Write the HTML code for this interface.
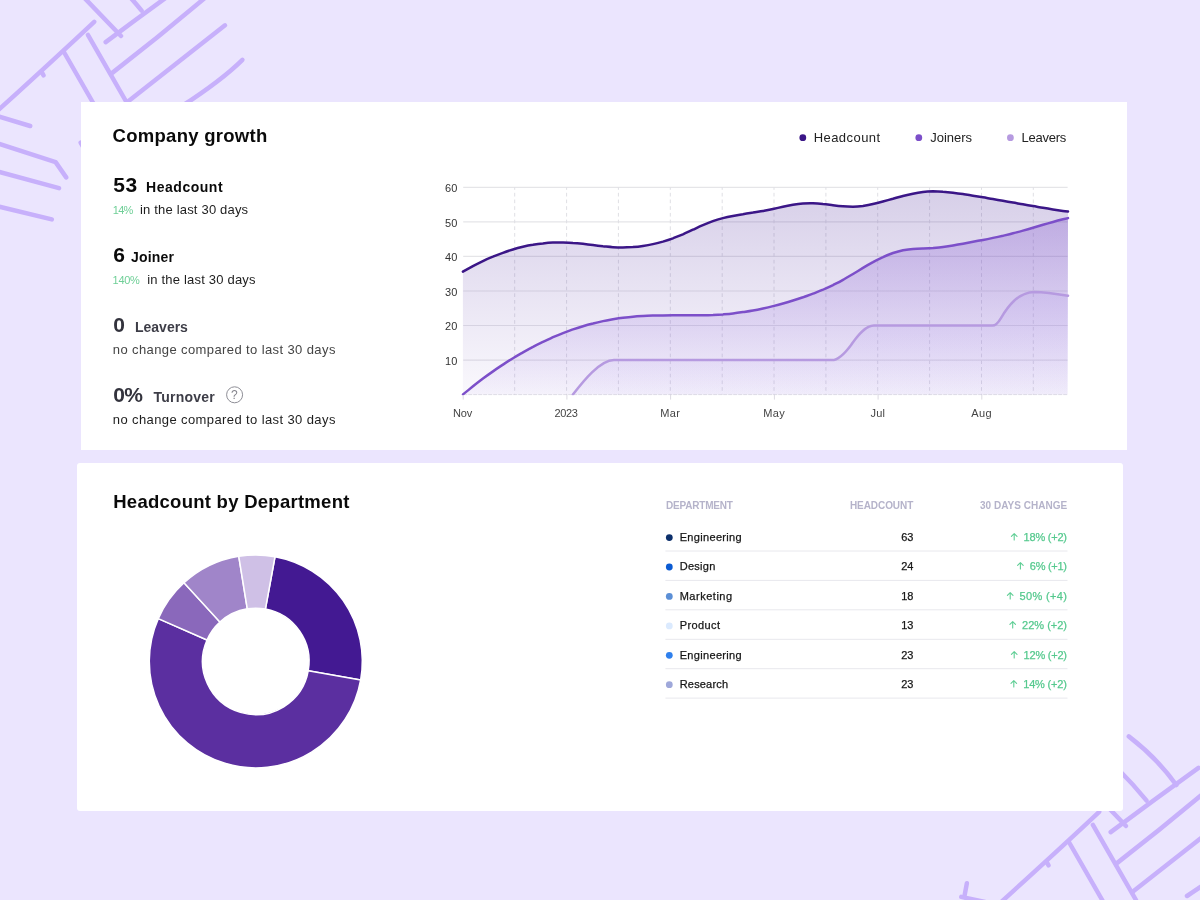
<!DOCTYPE html>
<html lang="en"><head><meta charset="utf-8"><title>Company growth</title>
<style>
html,body{margin:0;padding:0}
body{width:1200px;height:900px;overflow:hidden;position:relative;background:#ebe5fe;font-family:"Liberation Sans",sans-serif}
.abs{position:absolute;left:0;top:0}
.card{position:absolute;background:#fff}
.tx{position:absolute;white-space:pre;line-height:1}
.med{-webkit-text-stroke:0.25px currentColor}
</style></head><body>
<svg class="abs" width="1200" height="900" viewBox="0 0 1200 900"><g id="pat" fill="none" stroke="#c7b0fb" stroke-width="4.5" stroke-linecap="round" stroke-linejoin="round">
<path d="M94.2,21.8 Q60,54 -6,114"/>
<path d="M41.9,72.5 L43.6,75.4"/>
<path d="M63.9,52 L97.5,110.5"/>
<path d="M87.9,34.9 L131,110"/>
<path d="M84,-2.5 L121,36"/>
<path d="M105.7,42.1 Q150,9 193.5,-22.2"/>
<path d="M112,-22 Q128,-6 141.6,10.6"/>
<path d="M123.8,-53.6 Q152,-32 171.3,-5"/>
<path d="M112.6,72.6 Q160,36 206,-3"/>
<path d="M128,101.5 L225,25.3"/>
<path d="M182,106 Q222,80 242.4,59.8"/>
<path d="M-5,115.4 L30.2,126"/>
<path d="M-5,142.4 L55.6,162.1 L66.2,177.4"/>
<path d="M-5,170.8 L59,188.2"/>
<path d="M-5,205.6 L51.8,219.4"/>
<path d="M80.6,142.6 L85,150"/>
<path d="M-38.1,93.2 L-40.6,106.3"/>
<path d="M-43.7,106.9 L-20,112"/>
</g><use href="#pat" x="1005" y="790"/></svg>
<div class="card" style="left:80.5px;top:102px;width:1046.1px;height:347.6px"></div>
<div class="card" style="left:77px;top:463.1px;width:1045.9px;height:347.5px;border-radius:3px"></div>
<svg class="abs" width="1200" height="900" viewBox="0 0 1200 900">
<defs>
<linearGradient id="gh" x1="0" y1="0" x2="0" y2="1"><stop offset="0" stop-color="#3f1a92" stop-opacity="0.21"/><stop offset="1" stop-color="#4a22a8" stop-opacity="0.03"/></linearGradient>
<linearGradient id="gj" x1="0" y1="0" x2="0" y2="1"><stop offset="0" stop-color="#7a4acb" stop-opacity="0.29"/><stop offset="1" stop-color="#7a4ae0" stop-opacity="0.04"/></linearGradient>
<linearGradient id="gl" x1="0" y1="0" x2="0" y2="1"><stop offset="0" stop-color="#a98ee8" stop-opacity="0.16"/><stop offset="1" stop-color="#a98ef0" stop-opacity="0.06"/></linearGradient>
<clipPath id="cl"><rect x="455" y="170" width="625" height="225.2"/></clipPath>
</defs>
<line x1="463.2" x2="1067.6" y1="360.1" y2="360.1" stroke="#e5e5e8" stroke-width="1.2"/><line x1="463.2" x2="1067.6" y1="325.5" y2="325.5" stroke="#e5e5e8" stroke-width="1.2"/><line x1="463.2" x2="1067.6" y1="291.0" y2="291.0" stroke="#e5e5e8" stroke-width="1.2"/><line x1="463.2" x2="1067.6" y1="256.4" y2="256.4" stroke="#e5e5e8" stroke-width="1.2"/><line x1="463.2" x2="1067.6" y1="221.9" y2="221.9" stroke="#e5e5e8" stroke-width="1.2"/><line x1="463.2" x2="1067.6" y1="187.3" y2="187.3" stroke="#e5e5e8" stroke-width="1.2"/><line x1="514.7" x2="514.7" y1="187.3" y2="394.6" stroke="#dfdfe4" stroke-width="1" stroke-dasharray="3.7 3" stroke-dashoffset="1.2"/><line x1="566.6" x2="566.6" y1="187.3" y2="394.6" stroke="#dfdfe4" stroke-width="1" stroke-dasharray="3.7 3" stroke-dashoffset="1.2"/><line x1="618.4" x2="618.4" y1="187.3" y2="394.6" stroke="#dfdfe4" stroke-width="1" stroke-dasharray="3.7 3" stroke-dashoffset="1.2"/><line x1="670.3" x2="670.3" y1="187.3" y2="394.6" stroke="#dfdfe4" stroke-width="1" stroke-dasharray="3.7 3" stroke-dashoffset="1.2"/><line x1="722.2" x2="722.2" y1="187.3" y2="394.6" stroke="#dfdfe4" stroke-width="1" stroke-dasharray="3.7 3" stroke-dashoffset="1.2"/><line x1="774.0" x2="774.0" y1="187.3" y2="394.6" stroke="#dfdfe4" stroke-width="1" stroke-dasharray="3.7 3" stroke-dashoffset="1.2"/><line x1="825.9" x2="825.9" y1="187.3" y2="394.6" stroke="#dfdfe4" stroke-width="1" stroke-dasharray="3.7 3" stroke-dashoffset="1.2"/><line x1="877.7" x2="877.7" y1="187.3" y2="394.6" stroke="#dfdfe4" stroke-width="1" stroke-dasharray="3.7 3" stroke-dashoffset="1.2"/><line x1="929.6" x2="929.6" y1="187.3" y2="394.6" stroke="#dfdfe4" stroke-width="1" stroke-dasharray="3.7 3" stroke-dashoffset="1.2"/><line x1="981.5" x2="981.5" y1="187.3" y2="394.6" stroke="#dfdfe4" stroke-width="1" stroke-dasharray="3.7 3" stroke-dashoffset="1.2"/><line x1="1033.3" x2="1033.3" y1="187.3" y2="394.6" stroke="#dfdfe4" stroke-width="1" stroke-dasharray="3.7 3" stroke-dashoffset="1.2"/><line x1="463.2" x2="1067.6" y1="394.6" y2="394.6" stroke="#c6c6ce" stroke-width="0.5" stroke-dasharray="4 1"/><line x1="463.2" x2="463.2" y1="394.6" y2="399.6" stroke="#dcdae2" stroke-width="1"/><line x1="566.9" x2="566.9" y1="394.6" y2="399.6" stroke="#dcdae2" stroke-width="1"/><line x1="670.6" x2="670.6" y1="394.6" y2="399.6" stroke="#dcdae2" stroke-width="1"/><line x1="774.4" x2="774.4" y1="394.6" y2="399.6" stroke="#dcdae2" stroke-width="1"/><line x1="878.1" x2="878.1" y1="394.6" y2="399.6" stroke="#dcdae2" stroke-width="1"/><line x1="981.8" x2="981.8" y1="394.6" y2="399.6" stroke="#dcdae2" stroke-width="1"/>
<path d="M462.9,271.7 C466.2,269.8 469.6,267.9 472.9,266.1 C476.2,264.4 479.6,262.7 482.9,261.1 C486.2,259.5 489.6,258.0 492.9,256.7 C496.2,255.3 499.6,254.0 502.9,252.8 C506.2,251.6 509.6,250.5 512.9,249.5 C516.2,248.5 519.6,247.6 522.9,246.8 C526.2,246.0 529.6,245.3 532.9,244.8 C536.2,244.2 539.6,243.7 542.9,243.4 C546.2,243.0 549.6,242.7 552.9,242.6 C556.2,242.5 559.6,242.4 562.9,242.5 C566.2,242.6 569.6,242.7 572.9,243.0 C576.2,243.2 579.6,243.5 582.9,243.8 C586.2,244.2 589.6,244.6 592.9,245.0 C596.2,245.4 599.6,245.9 602.9,246.3 C606.2,246.6 609.6,247.0 612.9,247.2 C616.2,247.4 619.6,247.5 622.9,247.5 C626.2,247.5 629.6,247.3 632.9,247.1 C636.2,246.8 639.6,246.4 642.9,245.9 C646.2,245.4 649.6,244.8 652.9,244.1 C656.2,243.4 659.6,242.5 662.9,241.6 C666.2,240.6 669.6,239.5 672.9,238.3 C676.2,237.0 679.6,235.7 682.9,234.3 C686.2,232.8 689.6,231.3 692.9,229.7 C696.2,228.2 699.6,226.6 702.9,225.2 C706.2,223.8 709.6,222.4 712.9,221.2 C716.2,220.0 719.6,219.0 722.9,218.1 C726.2,217.2 729.6,216.5 732.9,215.9 C736.2,215.3 739.6,214.7 742.9,214.2 C746.2,213.6 749.6,213.1 752.9,212.6 C756.2,212.0 759.6,211.5 762.9,210.9 C766.2,210.3 769.6,209.7 772.9,209.0 C776.2,208.3 779.6,207.5 782.9,206.8 C786.2,206.0 789.6,205.3 792.9,204.7 C796.2,204.1 799.6,203.6 802.9,203.4 C806.2,203.2 809.6,203.1 812.9,203.2 C816.2,203.3 819.6,203.6 822.9,204.0 C826.2,204.3 829.6,204.8 832.9,205.2 C836.2,205.6 839.6,206.0 842.9,206.3 C846.2,206.6 849.6,206.7 852.9,206.7 C856.2,206.6 859.6,206.3 862.9,205.9 C866.2,205.4 869.6,204.8 872.9,204.0 C876.2,203.3 879.6,202.4 882.9,201.5 C886.2,200.6 889.6,199.7 892.9,198.8 C896.2,197.8 899.6,196.9 902.9,196.0 C906.2,195.2 909.6,194.4 912.9,193.7 C916.2,193.0 919.6,192.4 922.9,192.0 C926.2,191.6 929.6,191.4 932.9,191.3 C936.2,191.3 939.6,191.4 942.9,191.7 C946.2,191.9 949.6,192.3 952.9,192.8 C956.2,193.2 959.6,193.7 962.9,194.1 C966.2,194.6 969.6,195.1 972.9,195.7 C976.2,196.2 979.6,196.8 982.9,197.3 C986.2,197.9 989.6,198.4 992.9,199.0 C996.2,199.6 999.6,200.2 1002.9,200.8 C1006.2,201.4 1009.6,202.0 1012.9,202.6 C1016.2,203.2 1019.6,203.7 1022.9,204.3 C1026.2,204.9 1029.6,205.5 1032.9,206.1 C1036.2,206.7 1039.6,207.2 1042.9,207.8 C1046.2,208.3 1049.6,208.9 1052.9,209.4 C1056.2,209.9 1059.6,210.4 1062.9,210.9 C1064.6,211.2 1066.3,211.4 1068.0,211.6 L1067.6,394.6 L462.9,394.6 Z" fill="url(#gh)"/>
<path d="M463.0,394.4 C466.3,391.7 469.7,389.0 473.0,386.3 C476.3,383.7 479.7,381.1 483.0,378.6 C486.3,376.1 489.7,373.7 493.0,371.4 C496.3,369.0 499.7,366.8 503.0,364.6 C506.3,362.4 509.7,360.2 513.0,358.2 C516.3,356.1 519.7,354.2 523.0,352.3 C526.3,350.4 529.7,348.5 533.0,346.8 C536.3,345.0 539.7,343.4 543.0,341.8 C546.3,340.2 549.7,338.7 553.0,337.2 C556.3,335.8 559.7,334.4 563.0,333.1 C566.3,331.8 569.7,330.6 573.0,329.4 C576.3,328.3 579.7,327.2 583.0,326.2 C586.3,325.2 589.7,324.3 593.0,323.5 C596.3,322.6 599.7,321.8 603.0,321.1 C606.3,320.4 609.7,319.8 613.0,319.2 C616.3,318.7 619.7,318.2 623.0,317.8 C626.3,317.4 629.7,317.0 633.0,316.7 C636.3,316.4 639.7,316.2 643.0,316.0 C646.3,315.8 649.7,315.7 653.0,315.6 C656.3,315.5 659.7,315.4 663.0,315.4 C666.3,315.3 669.7,315.3 673.0,315.3 C676.3,315.3 679.7,315.3 683.0,315.3 C686.3,315.3 689.7,315.4 693.0,315.3 C696.3,315.3 699.7,315.3 703.0,315.3 C706.3,315.2 709.7,315.1 713.0,315.0 C716.3,314.8 719.7,314.6 723.0,314.4 C726.3,314.1 729.7,313.8 733.0,313.4 C736.3,313.1 739.7,312.6 743.0,312.1 C746.3,311.6 749.7,311.1 753.0,310.5 C756.3,309.9 759.7,309.2 763.0,308.5 C766.3,307.8 769.7,307.0 773.0,306.1 C776.3,305.3 779.7,304.4 783.0,303.5 C786.3,302.6 789.7,301.6 793.0,300.5 C796.3,299.5 799.7,298.4 803.0,297.3 C806.3,296.1 809.7,295.0 813.0,293.7 C816.3,292.4 819.7,291.1 823.0,289.7 C826.3,288.2 829.7,286.7 833.0,285.1 C836.3,283.4 839.7,281.7 843.0,279.8 C846.3,277.9 849.7,276.0 853.0,274.0 C856.3,272.0 859.7,269.9 863.0,267.9 C866.3,265.9 869.7,264.0 873.0,262.2 C876.3,260.3 879.7,258.6 883.0,257.1 C886.3,255.5 889.7,254.2 893.0,253.0 C896.3,251.9 899.7,250.9 903.0,250.2 C906.3,249.6 909.7,249.1 913.0,248.9 C916.3,248.7 919.7,248.6 923.0,248.5 C926.3,248.4 929.7,248.3 933.0,248.1 C936.3,247.8 939.7,247.5 943.0,247.0 C946.3,246.6 949.7,246.1 953.0,245.5 C956.3,244.9 959.7,244.3 963.0,243.7 C966.3,243.1 969.7,242.4 973.0,241.8 C976.3,241.2 979.7,240.5 983.0,239.9 C986.3,239.3 989.7,238.6 993.0,237.9 C996.3,237.2 999.7,236.5 1003.0,235.8 C1006.3,235.0 1009.7,234.2 1013.0,233.3 C1016.3,232.5 1019.7,231.6 1023.0,230.6 C1026.3,229.7 1029.7,228.7 1033.0,227.8 C1036.3,226.8 1039.7,225.8 1043.0,224.8 C1046.3,223.9 1049.7,222.9 1053.0,222.0 C1056.3,221.0 1059.7,220.1 1063.0,219.3 C1064.7,218.9 1066.3,218.5 1068.0,218.1 L1067.6,394.6 L463.0,394.6 Z" fill="url(#gj)"/>
<path d="M572.9,394.6 C583,381.5 600,360 614,360 L832,360.1 C839,360.1 847.3,350.1 851.3,344.7 C855.3,339.3 864,325.6 874,325.6 L992.5,325.6 C996,325.6 998,323 1000.8,318.3 C1008,306 1018,292.5 1034.2,291.9 C1046,292 1057,293.8 1068,295.7 L1067.6,394.6 L572.9,394.6 Z" fill="url(#gl)"/>
<path d="M572.9,394.6 C583,381.5 600,360 614,360 L832,360.1 C839,360.1 847.3,350.1 851.3,344.7 C855.3,339.3 864,325.6 874,325.6 L992.5,325.6 C996,325.6 998,323 1000.8,318.3 C1008,306 1018,292.5 1034.2,291.9 C1046,292 1057,293.8 1068,295.7" fill="none" stroke="#b69ae0" stroke-width="2.5" stroke-linecap="round" clip-path="url(#cl)"/>
<path d="M463.0,394.4 C466.3,391.7 469.7,389.0 473.0,386.3 C476.3,383.7 479.7,381.1 483.0,378.6 C486.3,376.1 489.7,373.7 493.0,371.4 C496.3,369.0 499.7,366.8 503.0,364.6 C506.3,362.4 509.7,360.2 513.0,358.2 C516.3,356.1 519.7,354.2 523.0,352.3 C526.3,350.4 529.7,348.5 533.0,346.8 C536.3,345.0 539.7,343.4 543.0,341.8 C546.3,340.2 549.7,338.7 553.0,337.2 C556.3,335.8 559.7,334.4 563.0,333.1 C566.3,331.8 569.7,330.6 573.0,329.4 C576.3,328.3 579.7,327.2 583.0,326.2 C586.3,325.2 589.7,324.3 593.0,323.5 C596.3,322.6 599.7,321.8 603.0,321.1 C606.3,320.4 609.7,319.8 613.0,319.2 C616.3,318.7 619.7,318.2 623.0,317.8 C626.3,317.4 629.7,317.0 633.0,316.7 C636.3,316.4 639.7,316.2 643.0,316.0 C646.3,315.8 649.7,315.7 653.0,315.6 C656.3,315.5 659.7,315.4 663.0,315.4 C666.3,315.3 669.7,315.3 673.0,315.3 C676.3,315.3 679.7,315.3 683.0,315.3 C686.3,315.3 689.7,315.4 693.0,315.3 C696.3,315.3 699.7,315.3 703.0,315.3 C706.3,315.2 709.7,315.1 713.0,315.0 C716.3,314.8 719.7,314.6 723.0,314.4 C726.3,314.1 729.7,313.8 733.0,313.4 C736.3,313.1 739.7,312.6 743.0,312.1 C746.3,311.6 749.7,311.1 753.0,310.5 C756.3,309.9 759.7,309.2 763.0,308.5 C766.3,307.8 769.7,307.0 773.0,306.1 C776.3,305.3 779.7,304.4 783.0,303.5 C786.3,302.6 789.7,301.6 793.0,300.5 C796.3,299.5 799.7,298.4 803.0,297.3 C806.3,296.1 809.7,295.0 813.0,293.7 C816.3,292.4 819.7,291.1 823.0,289.7 C826.3,288.2 829.7,286.7 833.0,285.1 C836.3,283.4 839.7,281.7 843.0,279.8 C846.3,277.9 849.7,276.0 853.0,274.0 C856.3,272.0 859.7,269.9 863.0,267.9 C866.3,265.9 869.7,264.0 873.0,262.2 C876.3,260.3 879.7,258.6 883.0,257.1 C886.3,255.5 889.7,254.2 893.0,253.0 C896.3,251.9 899.7,250.9 903.0,250.2 C906.3,249.6 909.7,249.1 913.0,248.9 C916.3,248.7 919.7,248.6 923.0,248.5 C926.3,248.4 929.7,248.3 933.0,248.1 C936.3,247.8 939.7,247.5 943.0,247.0 C946.3,246.6 949.7,246.1 953.0,245.5 C956.3,244.9 959.7,244.3 963.0,243.7 C966.3,243.1 969.7,242.4 973.0,241.8 C976.3,241.2 979.7,240.5 983.0,239.9 C986.3,239.3 989.7,238.6 993.0,237.9 C996.3,237.2 999.7,236.5 1003.0,235.8 C1006.3,235.0 1009.7,234.2 1013.0,233.3 C1016.3,232.5 1019.7,231.6 1023.0,230.6 C1026.3,229.7 1029.7,228.7 1033.0,227.8 C1036.3,226.8 1039.7,225.8 1043.0,224.8 C1046.3,223.9 1049.7,222.9 1053.0,222.0 C1056.3,221.0 1059.7,220.1 1063.0,219.3 C1064.7,218.9 1066.3,218.5 1068.0,218.1" fill="none" stroke="#7c4fc9" stroke-width="2.5" stroke-linecap="round" clip-path="url(#cl)"/>
<path d="M462.9,271.7 C466.2,269.8 469.6,267.9 472.9,266.1 C476.2,264.4 479.6,262.7 482.9,261.1 C486.2,259.5 489.6,258.0 492.9,256.7 C496.2,255.3 499.6,254.0 502.9,252.8 C506.2,251.6 509.6,250.5 512.9,249.5 C516.2,248.5 519.6,247.6 522.9,246.8 C526.2,246.0 529.6,245.3 532.9,244.8 C536.2,244.2 539.6,243.7 542.9,243.4 C546.2,243.0 549.6,242.7 552.9,242.6 C556.2,242.5 559.6,242.4 562.9,242.5 C566.2,242.6 569.6,242.7 572.9,243.0 C576.2,243.2 579.6,243.5 582.9,243.8 C586.2,244.2 589.6,244.6 592.9,245.0 C596.2,245.4 599.6,245.9 602.9,246.3 C606.2,246.6 609.6,247.0 612.9,247.2 C616.2,247.4 619.6,247.5 622.9,247.5 C626.2,247.5 629.6,247.3 632.9,247.1 C636.2,246.8 639.6,246.4 642.9,245.9 C646.2,245.4 649.6,244.8 652.9,244.1 C656.2,243.4 659.6,242.5 662.9,241.6 C666.2,240.6 669.6,239.5 672.9,238.3 C676.2,237.0 679.6,235.7 682.9,234.3 C686.2,232.8 689.6,231.3 692.9,229.7 C696.2,228.2 699.6,226.6 702.9,225.2 C706.2,223.8 709.6,222.4 712.9,221.2 C716.2,220.0 719.6,219.0 722.9,218.1 C726.2,217.2 729.6,216.5 732.9,215.9 C736.2,215.3 739.6,214.7 742.9,214.2 C746.2,213.6 749.6,213.1 752.9,212.6 C756.2,212.0 759.6,211.5 762.9,210.9 C766.2,210.3 769.6,209.7 772.9,209.0 C776.2,208.3 779.6,207.5 782.9,206.8 C786.2,206.0 789.6,205.3 792.9,204.7 C796.2,204.1 799.6,203.6 802.9,203.4 C806.2,203.2 809.6,203.1 812.9,203.2 C816.2,203.3 819.6,203.6 822.9,204.0 C826.2,204.3 829.6,204.8 832.9,205.2 C836.2,205.6 839.6,206.0 842.9,206.3 C846.2,206.6 849.6,206.7 852.9,206.7 C856.2,206.6 859.6,206.3 862.9,205.9 C866.2,205.4 869.6,204.8 872.9,204.0 C876.2,203.3 879.6,202.4 882.9,201.5 C886.2,200.6 889.6,199.7 892.9,198.8 C896.2,197.8 899.6,196.9 902.9,196.0 C906.2,195.2 909.6,194.4 912.9,193.7 C916.2,193.0 919.6,192.4 922.9,192.0 C926.2,191.6 929.6,191.4 932.9,191.3 C936.2,191.3 939.6,191.4 942.9,191.7 C946.2,191.9 949.6,192.3 952.9,192.8 C956.2,193.2 959.6,193.7 962.9,194.1 C966.2,194.6 969.6,195.1 972.9,195.7 C976.2,196.2 979.6,196.8 982.9,197.3 C986.2,197.9 989.6,198.4 992.9,199.0 C996.2,199.6 999.6,200.2 1002.9,200.8 C1006.2,201.4 1009.6,202.0 1012.9,202.6 C1016.2,203.2 1019.6,203.7 1022.9,204.3 C1026.2,204.9 1029.6,205.5 1032.9,206.1 C1036.2,206.7 1039.6,207.2 1042.9,207.8 C1046.2,208.3 1049.6,208.9 1052.9,209.4 C1056.2,209.9 1059.6,210.4 1062.9,210.9 C1064.6,211.2 1066.3,211.4 1068.0,211.6" fill="none" stroke="#3b1687" stroke-width="2.5" stroke-linecap="round" clip-path="url(#cl)"/>
<circle cx="802.8" cy="137.7" r="3.4" fill="#3b1687"/>
<circle cx="918.8" cy="137.7" r="3.4" fill="#7c4fc9"/>
<circle cx="1010.4" cy="137.7" r="3.4" fill="#b69ae0"/>
<circle cx="234.6" cy="394.8" r="8" fill="none" stroke="#8e8e96" stroke-width="1"/>
</svg>
<svg class="abs" width="1200" height="900" viewBox="0 0 1200 900"><path d="M275.03,556.65 A106.5,106.5 0 0 1 360.68,679.89 L308.24,670.65 A53.25,53.25 0 0 0 265.41,609.02 Z" fill="#431992" stroke="#fff" stroke-width="1.5" stroke-linejoin="round"/><path d="M360.68,679.89 A106.5,106.5 0 1 1 158.28,618.59 L207.04,640.00 A53.25,53.25 0 1 0 308.24,670.65 Z" fill="#5b2fa0" stroke="#fff" stroke-width="1.5" stroke-linejoin="round"/><path d="M158.28,618.59 A106.5,106.5 0 0 1 183.99,582.75 L219.89,622.08 A53.25,53.25 0 0 0 207.04,640.00 Z" fill="#8a68bb" stroke="#fff" stroke-width="1.5" stroke-linejoin="round"/><path d="M183.99,582.75 A106.5,106.5 0 0 1 238.77,556.27 L247.29,608.83 A53.25,53.25 0 0 0 219.89,622.08 Z" fill="#a085c9" stroke="#fff" stroke-width="1.5" stroke-linejoin="round"/><path d="M238.77,556.27 A106.5,106.5 0 0 1 275.03,556.65 L265.41,609.02 A53.25,53.25 0 0 0 247.29,608.83 Z" fill="#cfc0e6" stroke="#fff" stroke-width="1.5" stroke-linejoin="round"/></svg>
<svg class="abs" width="1200" height="900" viewBox="0 0 1200 900"><circle cx="669.3" cy="537.6" r="3.4" fill="#0c2f6b"/><line x1="665.4" x2="1067.5" y1="551.0" y2="551.0" stroke="#e8e8ed" stroke-width="1"/><circle cx="669.3" cy="567.0" r="3.4" fill="#0b5bd3"/><line x1="665.4" x2="1067.5" y1="580.4" y2="580.4" stroke="#e8e8ed" stroke-width="1"/><circle cx="669.3" cy="596.4" r="3.4" fill="#5b8fd6"/><line x1="665.4" x2="1067.5" y1="609.8" y2="609.8" stroke="#e8e8ed" stroke-width="1"/><circle cx="669.3" cy="625.9" r="3.4" fill="#dbeafe"/><line x1="665.4" x2="1067.5" y1="639.3" y2="639.3" stroke="#e8e8ed" stroke-width="1"/><circle cx="669.3" cy="655.3" r="3.4" fill="#2f80ed"/><line x1="665.4" x2="1067.5" y1="668.7" y2="668.7" stroke="#e8e8ed" stroke-width="1"/><circle cx="669.3" cy="684.7" r="3.4" fill="#9fa8da"/><line x1="665.4" x2="1067.5" y1="698.1" y2="698.1" stroke="#e8e8ed" stroke-width="1"/><path d="M1014.2,540.0 V533.8 M1011.4,536.4 L1014.2,533.6 L1017.0,536.4" fill="none" stroke="#5fce95" stroke-width="1.1" stroke-linecap="round" stroke-linejoin="round"/><path d="M1020.4,569.0 V562.8 M1017.6,565.4 L1020.4,562.6 L1023.2,565.4" fill="none" stroke="#5fce95" stroke-width="1.1" stroke-linecap="round" stroke-linejoin="round"/><path d="M1010.2,599.0 V592.8 M1007.4,595.4 L1010.2,592.6 L1013.0,595.4" fill="none" stroke="#5fce95" stroke-width="1.1" stroke-linecap="round" stroke-linejoin="round"/><path d="M1012.7,628.0 V621.8 M1009.9,624.4 L1012.7,621.6 L1015.5,624.4" fill="none" stroke="#5fce95" stroke-width="1.1" stroke-linecap="round" stroke-linejoin="round"/><path d="M1014.2,658.0 V651.8 M1011.4,654.4 L1014.2,651.6 L1017.0,654.4" fill="none" stroke="#5fce95" stroke-width="1.1" stroke-linecap="round" stroke-linejoin="round"/><path d="M1013.8,687.0 V680.8 M1011.0,683.4 L1013.8,680.6 L1016.6,683.4" fill="none" stroke="#5fce95" stroke-width="1.1" stroke-linecap="round" stroke-linejoin="round"/></svg>
<span class="tx" style="left:112.60px;top:127px;font-size:18.5px;font-weight:700;color:#0a0a0a;letter-spacing:0.270px">Company growth</span><span class="tx" style="left:113.30px;top:174px;font-size:21px;font-weight:700;color:#0a0a0a;letter-spacing:0.641px">53</span><span class="tx" style="left:146.10px;top:180px;font-size:14px;font-weight:700;color:#0a0a0a;letter-spacing:0.520px">Headcount</span><span class="tx" style="left:112.80px;top:205px;font-size:11px;font-weight:400;color:#6fcf97;letter-spacing:-0.716px">14%</span><span class="tx" style="left:140.00px;top:203px;font-size:13px;font-weight:400;color:#1d1d1d;letter-spacing:0.184px">in the last 30 days</span><span class="tx" style="left:113.20px;top:244px;font-size:21px;font-weight:700;color:#0a0a0a;letter-spacing:0.000px">6</span><span class="tx" style="left:130.90px;top:250px;font-size:14px;font-weight:700;color:#0a0a0a;letter-spacing:0.217px">Joiner</span><span class="tx" style="left:112.60px;top:275px;font-size:11px;font-weight:400;color:#6fcf97;letter-spacing:-0.280px">140%</span><span class="tx" style="left:147.20px;top:273px;font-size:13px;font-weight:400;color:#1d1d1d;letter-spacing:0.200px">in the last 30 days</span><span class="tx" style="left:113.20px;top:314px;font-size:21px;font-weight:700;color:#33333d;letter-spacing:0.000px">0</span><span class="tx" style="left:135.00px;top:320px;font-size:14px;font-weight:700;color:#3d3d47;letter-spacing:-0.006px">Leavers</span><span class="tx" style="left:112.80px;top:343px;font-size:13px;font-weight:400;color:#444;letter-spacing:0.394px">no change compared to last 30 days</span><span class="tx" style="left:113.20px;top:384px;font-size:21px;font-weight:700;color:#33333d;letter-spacing:-0.559px">0%</span><span class="tx" style="left:153.40px;top:390px;font-size:14px;font-weight:700;color:#3d3d47;letter-spacing:0.251px">Turnover</span><span class="tx" style="left:112.80px;top:413px;font-size:13px;font-weight:400;color:#1d1d1d;letter-spacing:0.394px">no change compared to last 30 days</span><span class="tx" style="left:813.70px;top:131px;font-size:13px;font-weight:400;color:#222;letter-spacing:0.439px">Headcount</span><span class="tx" style="left:930.20px;top:131px;font-size:13px;font-weight:400;color:#222;letter-spacing:-0.020px">Joiners</span><span class="tx" style="left:1021.50px;top:131px;font-size:13px;font-weight:400;color:#222;letter-spacing:-0.258px">Leavers</span><span class="tx" style="left:445.00px;top:356px;font-size:11px;font-weight:400;color:#333;letter-spacing:0.250px">10</span><span class="tx" style="left:445.00px;top:321px;font-size:11px;font-weight:400;color:#333;letter-spacing:0.250px">20</span><span class="tx" style="left:445.00px;top:287px;font-size:11px;font-weight:400;color:#333;letter-spacing:0.250px">30</span><span class="tx" style="left:445.00px;top:252px;font-size:11px;font-weight:400;color:#333;letter-spacing:0.250px">40</span><span class="tx" style="left:445.00px;top:218px;font-size:11px;font-weight:400;color:#333;letter-spacing:0.250px">50</span><span class="tx" style="left:445.00px;top:183px;font-size:11px;font-weight:400;color:#333;letter-spacing:0.250px">60</span><span class="tx" style="left:452.90px;top:408px;font-size:11px;font-weight:400;color:#444;letter-spacing:-0.081px">Nov</span><span class="tx" style="left:554.40px;top:408px;font-size:11px;font-weight:400;color:#444;letter-spacing:-0.295px">2023</span><span class="tx" style="left:660.20px;top:408px;font-size:11px;font-weight:400;color:#444;letter-spacing:0.423px">Mar</span><span class="tx" style="left:763.15px;top:408px;font-size:11px;font-weight:400;color:#444;letter-spacing:0.459px">May</span><span class="tx" style="left:870.55px;top:408px;font-size:11px;font-weight:400;color:#444;letter-spacing:0.219px">Jul</span><span class="tx" style="left:971.30px;top:408px;font-size:11px;font-weight:400;color:#444;letter-spacing:0.411px">Aug</span><span class="tx" style="left:113.20px;top:493px;font-size:18.5px;font-weight:700;color:#0a0a0a;letter-spacing:0.270px">Headcount by Department</span><span class="tx" style="left:666.00px;top:501px;font-size:10px;font-weight:700;color:#b5b3ca;letter-spacing:-0.200px">DEPARTMENT</span><span class="tx" style="left:849.90px;top:501px;font-size:10px;font-weight:700;color:#b5b3ca;letter-spacing:-0.061px">HEADCOUNT</span><span class="tx" style="left:980.00px;top:501px;font-size:10px;font-weight:700;color:#b5b3ca;letter-spacing:0.031px">30 DAYS CHANGE</span><span class="tx med" style="left:679.70px;top:532px;font-size:11px;font-weight:400;color:#161616;letter-spacing:0.328px">Engineering</span><span class="tx med" style="left:901.25px;top:532px;font-size:11px;font-weight:400;color:#161616;letter-spacing:0.000px">63</span><span class="tx med" style="left:1023.60px;top:532px;font-size:11px;font-weight:400;color:#55c98e;letter-spacing:-0.222px">18% (+2)</span><span class="tx med" style="left:679.70px;top:561px;font-size:11px;font-weight:400;color:#161616;letter-spacing:0.270px">Design</span><span class="tx med" style="left:901.25px;top:561px;font-size:11px;font-weight:400;color:#161616;letter-spacing:0.000px">24</span><span class="tx med" style="left:1029.80px;top:561px;font-size:11px;font-weight:400;color:#55c98e;letter-spacing:-0.271px">6% (+1)</span><span class="tx med" style="left:679.70px;top:591px;font-size:11px;font-weight:400;color:#161616;letter-spacing:0.513px">Marketing</span><span class="tx med" style="left:901.25px;top:591px;font-size:11px;font-weight:400;color:#161616;letter-spacing:0.000px">18</span><span class="tx med" style="left:1019.60px;top:591px;font-size:11px;font-weight:400;color:#55c98e;letter-spacing:0.350px">50% (+4)</span><span class="tx med" style="left:679.70px;top:620px;font-size:11px;font-weight:400;color:#161616;letter-spacing:0.396px">Product</span><span class="tx med" style="left:901.25px;top:620px;font-size:11px;font-weight:400;color:#161616;letter-spacing:0.000px">13</span><span class="tx med" style="left:1022.10px;top:620px;font-size:11px;font-weight:400;color:#55c98e;letter-spacing:-0.008px">22% (+2)</span><span class="tx med" style="left:679.70px;top:650px;font-size:11px;font-weight:400;color:#161616;letter-spacing:0.328px">Engineering</span><span class="tx med" style="left:901.25px;top:650px;font-size:11px;font-weight:400;color:#161616;letter-spacing:0.000px">23</span><span class="tx med" style="left:1023.60px;top:650px;font-size:11px;font-weight:400;color:#55c98e;letter-spacing:-0.222px">12% (+2)</span><span class="tx med" style="left:679.70px;top:679px;font-size:11px;font-weight:400;color:#161616;letter-spacing:0.189px">Research</span><span class="tx med" style="left:901.25px;top:679px;font-size:11px;font-weight:400;color:#161616;letter-spacing:0.000px">23</span><span class="tx med" style="left:1023.20px;top:679px;font-size:11px;font-weight:400;color:#55c98e;letter-spacing:-0.165px">14% (+2)</span>
<span class="tx" style="left:231.1px;top:389px;font-size:12px;color:#85858d">?</span>
</body></html>
